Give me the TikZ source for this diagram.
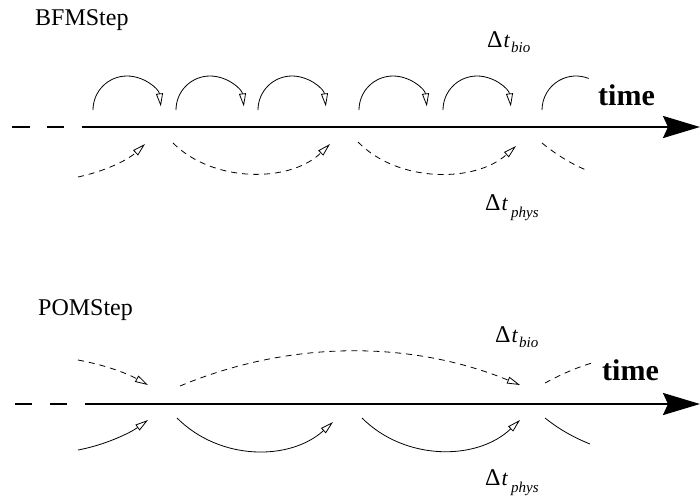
\documentclass[tikz,border=0pt]{standalone}
\usepackage{fontspec}
\setmainfont{Liberation Serif}
\usetikzlibrary{arrows.meta}
\tikzset{
  axisline/.style={line width=2.4pt},
  axisarrow/.style={axisline,-{Stealth[length=37pt,width=22pt,inset=5pt]}},
  steparc/.style={line width=0.8pt,-{Triangle[open,length=13pt,width=7pt]}},
  stepend/.style={line width=0.8pt},
  dashedarc/.style={dash pattern=on 6pt off 5pt},
  titletxt/.style={anchor=base west,inner sep=0pt,font=\fontsize{24}{24}\selectfont},
  timetxt/.style={anchor=base west,inner sep=0pt,font=\fontsize{30}{30}\selectfont\bfseries},
  dtlabel/.style={anchor=base west,inner sep=0pt,font=\fontsize{22}{22}\selectfont}
}
\newcommand{\bigdelta}{{\fontsize{24}{24}\selectfont Δ}}
\begin{document}
\begin{tikzpicture}[x=1pt,y=-1pt]
\useasboundingbox (0,0) rectangle (700,496);

% ---------- BFMStep ----------
\node[titletxt] (bfm) at (35,25) {BFMStep};
\coordinate (a1s) at (12,127); \coordinate (a1e) at (30,127);
\coordinate (a2s) at (47,127); \coordinate (a2e) at (64,127);
\coordinate (axs) at (82,127); \coordinate (axe) at (700,127);
\draw[axisline] (a1s) -- (a1e);
\draw[axisline] (a2s) -- (a2e);
\draw[axisarrow] (axs) -- (axe);
\node[timetxt] (time1) at (598,105) {time};

% bio steps (solid arcs above)
\foreach \x in {93,176,258,359,443}{
  \draw[steparc] (\x,110) arc[start angle=180,end angle=6,radius=34pt];
}
\draw[stepend] (542,110) arc[start angle=180,end angle=68,radius=34pt];

% phys steps (dashed arcs below)
\draw[steparc,dashedarc] (78,177) .. controls (110,170) and (130,158) .. (145,144);
\draw[steparc,dashedarc] (173,143) .. controls (213,183) and (290,183) .. (330,144);
\draw[steparc,dashedarc] (358,142) .. controls (398,183) and (475,183) .. (516,146);
\draw[stepend,dashedarc] (542,143) .. controls (558,156) and (572,164) .. (586,170);

\node[dtlabel] (bio1) at (487,47) {\bigdelta\hspace{1pt}\textit{t}\hspace{1pt}\raisebox{-5pt}{\fontsize{15}{15}\selectfont\textit{bio}}};
\node[dtlabel] (phys1) at (485,210) {\bigdelta\hspace{1pt}\textit{t}\hspace{3pt}\raisebox{-7pt}{\fontsize{15}{15}\selectfont\textit{phys}}};

% ---------- POMStep ----------
\node[titletxt] (pom) at (38,315) {POMStep};
\coordinate (b1s) at (15,404); \coordinate (b1e) at (32,404);
\coordinate (b2s) at (50,404); \coordinate (b2e) at (67,404);
\coordinate (bxs) at (85,404); \coordinate (bxe) at (700,404);
\draw[axisline] (b1s) -- (b1e);
\draw[axisline] (b2s) -- (b2e);
\draw[axisarrow] (bxs) -- (bxe);
\node[timetxt] (time2) at (602,380) {time};

% bio steps (dashed above)
\draw[steparc,dashedarc] (78,360) .. controls (110,366) and (130,375) .. (148,385);
\draw[steparc,dashedarc] (180,386) .. controls (290,340) and (410,340) .. (520,385);
\draw[stepend,dashedarc] (545,383) .. controls (560,375) and (575,368) .. (592,363);

% phys steps (solid below)
\draw[steparc] (78,450) .. controls (105,445) and (130,433) .. (148,420);
\draw[steparc] (177,418) .. controls (220,461) and (290,461) .. (333,422);
\draw[steparc] (362,418) .. controls (405,461) and (477,461) .. (520,420);
\draw[stepend] (545,418) .. controls (560,430) and (575,438) .. (590,444);

\node[dtlabel] (bio2) at (495,342) {\bigdelta\hspace{1pt}\textit{t}\hspace{1pt}\raisebox{-5pt}{\fontsize{15}{15}\selectfont\textit{bio}}};
\node[dtlabel] (phys2) at (485,485) {\bigdelta\hspace{1pt}\textit{t}\hspace{3pt}\raisebox{-7pt}{\fontsize{15}{15}\selectfont\textit{phys}}};
\end{tikzpicture}
\end{document}
